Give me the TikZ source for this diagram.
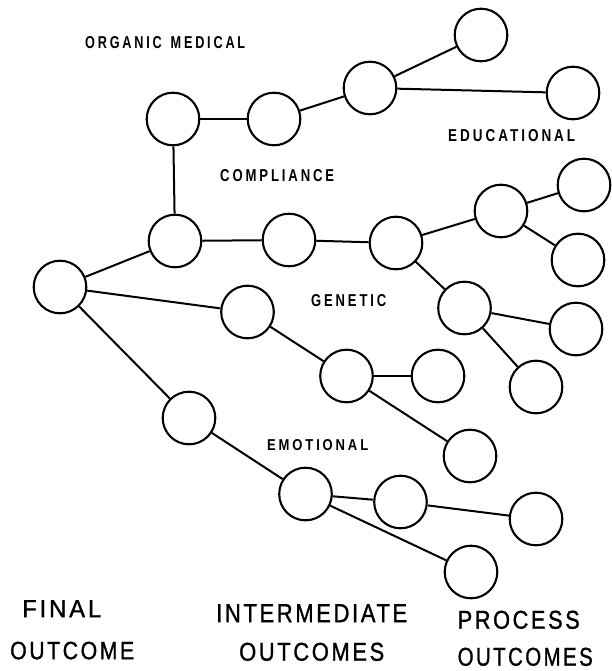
\documentclass[tikz,border=0pt]{standalone}
\usepackage{graphicx}
\usepackage{fontspec}
\setmainfont{Liberation Sans}
\newfontfamily\lblsmall[LetterSpace=22]{Liberation Sans}
\newfontfamily\lblbig[LetterSpace=12,FakeBold=1.2]{Liberation Sans}
\begin{document}
\begin{tikzpicture}[x=1pt,y=-1pt,
  oc/.style={circle,draw,line width=2.1pt,minimum size=52.6pt,inner sep=0pt},
  conn/.style={line width=2pt},
  lbl/.style={inner sep=0pt,anchor=north west}]
\useasboundingbox (0,0) rectangle (611,671);
% circles
\node[oc] (A) at (60,287) {};
\node[oc] (B) at (175,241) {};
\node[oc] (C) at (173,119) {};
\node[oc] (D) at (274,119) {};
\node[oc] (E) at (370,88) {};
\node[oc] (F) at (481,35) {};
\node[oc] (G) at (573,93) {};
\node[oc] (H) at (289,240) {};
\node[oc] (I) at (396,243) {};
\node[oc] (J) at (501,211) {};
\node[oc] (K) at (584,185) {};
\node[oc] (L) at (578,260) {};
\node[oc] (M) at (247.5,312) {};
\node[oc] (N) at (464.5,308) {};
\node[oc] (O) at (576,329) {};
\node[oc] (P) at (346.5,376) {};
\node[oc] (Q) at (438,376) {};
\node[oc] (R) at (536,387) {};
\node[oc] (S) at (470,456) {};
\node[oc] (T) at (189,418) {};
\node[oc] (U) at (305.5,494) {};
\node[oc] (V) at (400.5,502) {};
\node[oc] (W) at (536,519) {};
\node[oc] (X) at (471,572) {};
% connectors
\draw[conn] (A) -- (B);
\draw[conn] (A) -- (M);
\draw[conn] (A) -- (T);
\draw[conn] (B) -- (C);
\draw[conn] (C) -- (D);
\draw[conn] (D) -- (E);
\draw[conn] (E) -- (F);
\draw[conn] (E) -- (G);
\draw[conn] (B) -- (H);
\draw[conn] (H) -- (I);
\draw[conn] (I) -- (J);
\draw[conn] (J) -- (K);
\draw[conn] (J) -- (L);
\draw[conn] (I) -- (N);
\draw[conn] (N) -- (O);
\draw[conn] (N) -- (R);
\draw[conn] (M) -- (P);
\draw[conn] (P) -- (Q);
\draw[conn] (P) -- (S);
\draw[conn] (T) -- (U);
\draw[conn] (U) -- (V);
\draw[conn] (V) -- (W);
\draw[conn] (U) -- (X);
% small labels
\node[lbl] (l1) at (85,36) {\resizebox{160pt}{12pt}{\lblsmall\bfseries ORGANIC\hspace{7pt}MEDICAL}};
\node[lbl] (l2) at (448,129) {\resizebox{127pt}{12pt}{\lblsmall\bfseries EDUCATIONAL}};
\node[lbl] (l3) at (220,169) {\resizebox{114pt}{12pt}{\lblsmall\bfseries COMPLIANCE}};
\node[lbl] (l4) at (311,294) {\resizebox{75pt}{12pt}{\lblsmall\bfseries GENETIC}};
\node[lbl] (l5) at (267,439) {\resizebox{101pt}{11pt}{\lblsmall\bfseries EMOTIONAL}};
% big labels
\node[lbl] (b1) at (22,600) {\resizebox{79pt}{17pt}{\lblbig FINAL}};
\node[lbl] (b2) at (10,641.5) {\resizebox{124pt}{17.5pt}{\lblbig OUTCOME}};
\node[lbl] (b3) at (216,604) {\resizebox{191pt}{18pt}{\lblbig INTERMEDIATE}};
\node[lbl] (b4) at (239,642.5) {\resizebox{145pt}{18pt}{\lblbig OUTCOMES}};
\node[lbl] (b5) at (457.5,610.5) {\resizebox{122pt}{18pt}{\lblbig PROCESS}};
\node[lbl] (b6) at (457.5,647.5) {\resizebox{135pt}{18pt}{\lblbig OUTCOMES}};
\end{tikzpicture}
\end{document}
